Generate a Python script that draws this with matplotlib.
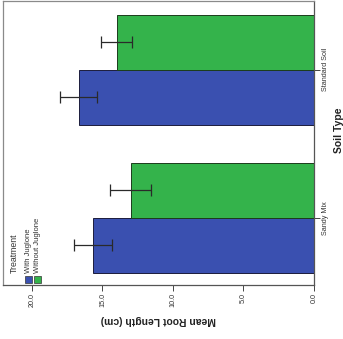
import matplotlib
matplotlib.use("Agg")
import matplotlib.pyplot as plt
import numpy as np
from matplotlib.patches import Rectangle

categories = ["Sandy Mix", "Standard Soil"]
series_names = ["With Juglone", "Without Juglone"]
with_juglone = [15.67, 16.67]
without_juglone = [13.0, 14.0]
with_err = [1.36, 1.32]
without_err = [1.45, 1.12]
value_ticks = [0.0, 5.0, 10.0, 15.0, 20.0]
colors = ["#3A50B0", "#34B34B"]

plt.rcParams['font.family'] = ['Liberation Sans', 'DejaVu Sans']

W, H = 343, 339
fig = plt.figure(figsize=(W / 100, H / 100), dpi=100)
ax = fig.add_axes([3 / W, 1 - 285 / H, (314 - 3) / W, (285 - 1) / H])

pos = np.arange(len(categories))
bh = 0.372
ax.barh(pos - bh / 2, with_juglone, height=bh, color=colors[0], edgecolor="#1c1c3c", linewidth=0.7, zorder=2)
ax.barh(pos + bh / 2, without_juglone, height=bh, color=colors[1], edgecolor="#1c3c1c", linewidth=0.7, zorder=2)
ax.errorbar(with_juglone, pos - bh / 2, xerr=with_err, fmt="none", ecolor="#2a2a2a", elinewidth=0.9, capsize=4.5, capthick=0.9, zorder=3)
ax.errorbar(without_juglone, pos + bh / 2, xerr=without_err, fmt="none", ecolor="#2a2a2a", elinewidth=0.9, capsize=4.5, capthick=0.9, zorder=3)

ax.set_xlim(22.05, 0)
ax.set_ylim(-0.455, 1.465)

ax.set_xticks(value_ticks)
ax.set_xticklabels([f"{v:.1f}" for v in value_ticks], rotation=90, fontsize=5.2, color="#333333")
ax.xaxis.tick_bottom()
ax.tick_params(axis="x", length=4, width=0.7, color="#444444", pad=2)

ax.yaxis.tick_right()
ax.set_yticks(pos)
ax.set_yticklabels(categories, rotation=90, fontsize=5.2, color="#333333", va="center")
ax.tick_params(axis="y", length=4, width=0.7, color="#444444", pad=2)

for s in ["top", "left"]:
    ax.spines[s].set_color("#8a8a8a")
    ax.spines[s].set_linewidth(0.9)
for s in ["bottom", "right"]:
    ax.spines[s].set_color("#555555")
    ax.spines[s].set_linewidth(0.9)

fig.text(158 / W, 1 - 320 / H, "Mean Root Length (cm)", rotation=180, fontsize=7.5,
         fontweight="bold", ha="center", va="center", color="#222222")
fig.text(339.5 / W, 1 - 130 / H, "Soil Type", rotation=90, fontsize=7.5,
         fontweight="bold", ha="center", va="center", color="#222222")

# legend (rotated), drawn manually
def fx(px):
    return px / W
def fy(py):
    return 1 - py / H

fig.text(fx(14), fy(273), "Treatment", rotation=90, fontsize=6.3, ha="center", va="bottom", color="#333333")
for i, (name, c) in enumerate(zip(series_names, colors)):
    x0 = 25 + i * 9
    fig.patches.append(Rectangle((fx(x0), fy(283)), 7 / W, 7 / H, transform=fig.transFigure,
                                 facecolor=c, edgecolor="#333333", linewidth=0.5))
    fig.text(fx(x0 + 3.5), fy(273), name, rotation=90, fontsize=5.5, ha="center", va="bottom", color="#333333")

fig.savefig("out.png", dpi=100)
